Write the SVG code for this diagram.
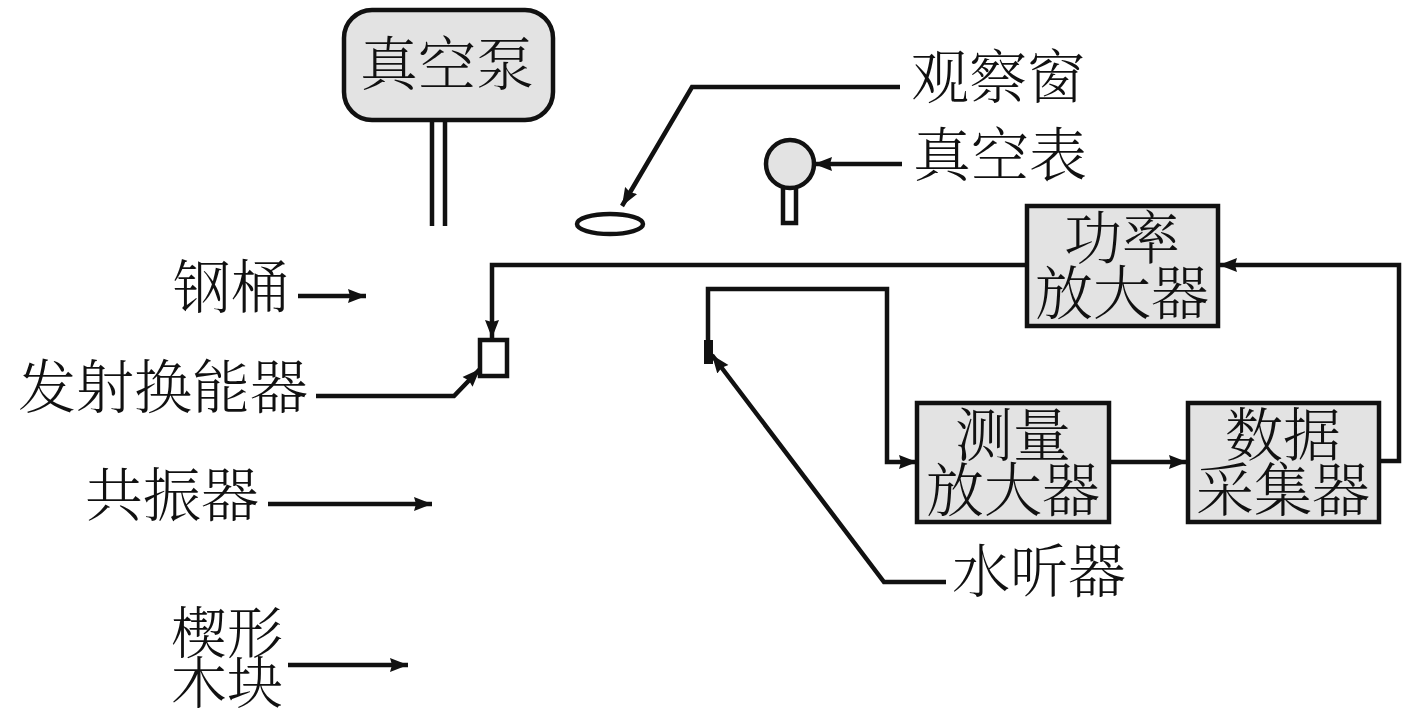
<svg xmlns="http://www.w3.org/2000/svg" width="1417" height="719" viewBox="0 0 1417 719">
<style>
text{font-family:"Noto Serif CJK SC","Noto Sans CJK SC",sans-serif;font-size:58px;fill:#111;text-anchor:middle;font-weight:300}
.box{fill:#e3e3e3;stroke:#111;stroke-width:4.5}
.w{fill:#fff;stroke:#111;stroke-width:4.5}
.c{fill:none;stroke:#111;stroke-width:4.5}
</style>
<defs><marker id="a" markerUnits="userSpaceOnUse" markerWidth="20" markerHeight="16" refX="18" refY="8" orient="auto"><path d="M0 1L18 8L0 15L2 8Z" fill="#111"/></marker></defs>
<rect width="1417" height="719" fill="#fff"/>
<g id="connectors">
<path class="c" d="M432 120V226M445 120V226"/>
<path class="c" d="M900 87H692L622 206" marker-end="url(#a)"/>
<path class="c" d="M902 164H814" marker-end="url(#a)"/>
<path class="c" d="M1027 265H492V338" marker-end="url(#a)"/>
<path class="c" d="M1381 461H1399V265H1219" marker-end="url(#a)"/>
<path class="c" d="M708 340V289H887V462H917" marker-end="url(#a)"/>
<path class="c" d="M1110 462H1187" marker-end="url(#a)"/>
<path class="c" d="M946 582H884L712 355" marker-end="url(#a)"/>
<path class="c" d="M298 296H366" marker-end="url(#a)"/>
<path class="c" d="M316 396H454L480 369" marker-end="url(#a)"/>
<path class="c" d="M268 504H432" marker-end="url(#a)"/>
<path class="c" d="M288 665H408" marker-end="url(#a)"/>
</g>
<g id="pump"><rect class="box" x="344" y="10" width="209" height="110" rx="28"/><text x="447" y="85">真空泵</text></g>
<g id="window"><ellipse class="w" cx="610" cy="224" rx="33" ry="10"/><text x="998" y="98">观察窗</text></g>
<g id="gauge"><rect class="w" x="783" y="186" width="13" height="37"/><circle cx="790" cy="164" r="24" fill="#e3e3e3" stroke="#111" stroke-width="4.5"/><text x="1000" y="176">真空表</text></g>
<g id="power"><rect class="box" x="1027" y="206" width="191" height="120"/><text x="1122" y="259"><tspan x="1122">功率</tspan><tspan x="1122" dy="55">放大器</tspan></text></g>
<g id="measure"><rect class="box" x="917" y="403" width="192" height="119"/><text x="1013" y="456"><tspan x="1013">测量</tspan><tspan x="1013" dy="55">放大器</tspan></text></g>
<g id="daq"><rect class="box" x="1188" y="403" width="191" height="119"/><text x="1283" y="456"><tspan x="1283">数据</tspan><tspan x="1283" dy="55">采集器</tspan></text></g>
<g id="transducer"><rect class="w" x="480" y="340" width="27" height="36"/><text x="163" y="408">发射换能器</text></g>
<g id="hydrophone"><rect x="704" y="340" width="9" height="24" fill="#111"/><text x="1039" y="592">水听器</text></g>
<g id="barrel"><text x="231" y="308">钢桶</text></g>
<g id="resonator"><text x="172" y="516">共振器</text></g>
<g id="wedge"><text x="227" y="653" style="font-size:56px"><tspan x="227">楔形</tspan><tspan x="227" dy="50">木块</tspan></text></g>
</svg>
